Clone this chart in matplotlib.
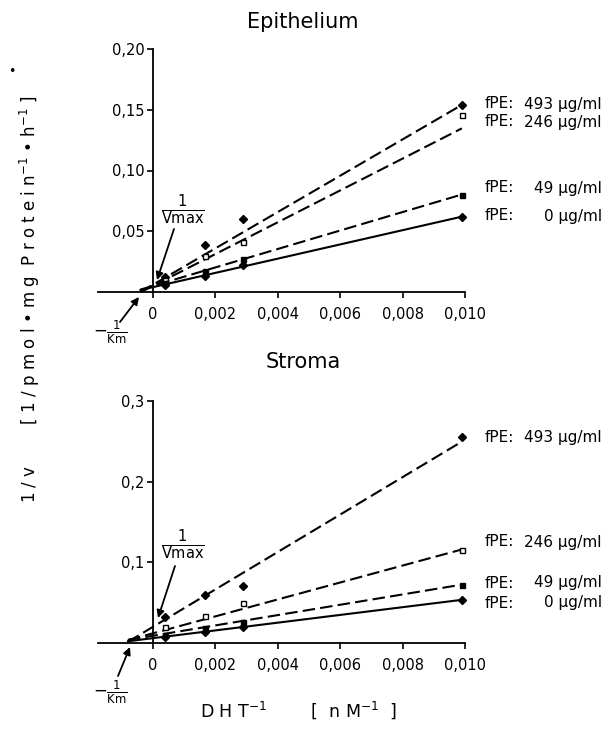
import matplotlib.pyplot as plt
import numpy as np

plt.rcParams['font.family'] = ['DejaVu Sans']
plt.rcParams['mathtext.fontset'] = 'dejavusans'

W, H = 608, 732

# 1/[DHT] in nM^-1
dht_inv = [0.0004, 0.00167, 0.0029, 0.0099]
fpe = [493, 246, 49, 0]

# Epithelium 1/v values per fPE concentration
epi_493 = [0.012, 0.039, 0.060, 0.154]
epi_246 = [0.010, 0.030, 0.041, 0.146]
epi_49 = [0.007, 0.017, 0.027, 0.080]
epi_0 = [0.006, 0.013, 0.022, 0.062]
epi_icpt = [0.006, 0.005, 0.005, 0.004]
epi_slope = [14.95, 13.1, 7.6, 5.86]
epi_xstart = -0.0004

# Stroma
str_493 = [0.032, 0.059, 0.071, 0.255]
str_246 = [0.020, 0.033, 0.050, 0.115]
str_49 = [0.010, 0.018, 0.026, 0.072]
str_0 = [0.007, 0.014, 0.020, 0.053]
str_icpt = [0.020, 0.012, 0.009, 0.006]
str_slope = [23.2, 10.5, 6.4, 4.8]
str_xstart = -0.0008

markers = ['D', 's', 's', 'D']
faces = ['black', 'white', 'black', 'black']
styles = [(0, (6, 2.5)), (0, (6, 2.5)), (0, (6, 2.5)), '-']


def fx(px):
    return px / W


def fy(py):
    return 1 - py / H


fig = plt.figure(figsize=(W / 100, H / 100), dpi=100)


def panel(rect, ys, icpts, slopes, xstart, ymax, yticks, yticklabels):
    ax = fig.add_axes(rect)
    for i in range(4):
        xl = np.array([xstart, dht_inv[-1]])
        ax.plot(xl, icpts[i] + slopes[i] * xl, color='black', lw=1.5,
                linestyle=styles[i], clip_on=False)
        ax.plot(dht_inv, ys[i], linestyle='none', marker=markers[i],
                ms=3.6, mfc=faces[i], mec='black', mew=1, clip_on=False)
    ax.set_xlim(-0.00176, 0.0100)
    ax.set_ylim(0, ymax)
    ax.spines['left'].set_position(('data', 0))
    ax.spines['top'].set_visible(False)
    ax.spines['right'].set_visible(False)
    for s in ['left', 'bottom']:
        ax.spines[s].set_linewidth(1.3)
    ax.set_xticks([0, 0.002, 0.004, 0.006, 0.008, 0.010])
    ax.set_xticklabels(['0', '0,002', '0,004', '0,006', '0,008', '0,010'])
    ax.set_yticks(yticks)
    ax.set_yticklabels(yticklabels)
    ax.tick_params(direction='out', length=4, width=1.2, labelsize=10.5)
    ax.tick_params(axis='x', pad=7)
    ax.tick_params(axis='y', pad=2)
    return ax


ax1 = panel([fx(98), fy(292), 367 / W, 243 / H], [epi_493, epi_246, epi_49, epi_0],
            epi_icpt, epi_slope, epi_xstart, 0.20,
            [0.05, 0.10, 0.15, 0.20], ['0,05', '0,10', '0,15', '0,20'])
ax2 = panel([fx(98), fy(643), 367 / W, 242 / H], [str_493, str_246, str_49, str_0],
            str_icpt, str_slope, str_xstart, 0.3,
            [0.1, 0.2, 0.3], ['0,1', '0,2', '0,3'])

fig.text(fx(303), fy(22), 'Epithelium', ha='center', va='center', fontsize=15)
fig.text(fx(303), fy(362), 'Stroma', ha='center', va='center', fontsize=15)

# fPE labels at line ends
top_label_y = [104, 122, 188, 216]
bot_label_y = [437, 542, 583, 603]
for ly_list in [top_label_y, bot_label_y]:
    for c, ly in zip(fpe, ly_list):
        fig.text(fx(485), fy(ly), 'fPE:', ha='left', va='center', fontsize=11)
        fig.text(fx(602), fy(ly), f'{c} µg/ml', ha='right', va='center', fontsize=11)

# 1/Vmax and -1/Km markers
arrow = dict(arrowstyle='-|>', color='black', lw=1.3, mutation_scale=11,
             shrinkA=0, shrinkB=0)
for vy, kmy, tail_v, head_v, tail_k, head_k in [
        (210, 332, (174, 229), (157, 280), (120, 322), (139, 297)),
        (545, 692, (175, 566), (158, 618), (118, 676), (130, 647))]:
    fig.text(fx(183), fy(vy), r'$\frac{1}{\mathrm{Vmax}}$', ha='center',
             va='center', fontsize=15)
    fig.text(fx(110), fy(kmy), r'$-\frac{1}{\mathrm{Km}}$', ha='center',
             va='center', fontsize=12)
    fig.add_artist(plt.Annotation('', xy=(head_v[0], H - head_v[1]),
                                  xytext=(tail_v[0], H - tail_v[1]),
                                  xycoords='figure pixels', textcoords='figure pixels',
                                  arrowprops=arrow))
    fig.add_artist(plt.Annotation('', xy=(head_k[0], H - head_k[1]),
                                  xytext=(tail_k[0], H - tail_k[1]),
                                  xycoords='figure pixels', textcoords='figure pixels',
                                  arrowprops=arrow))

fig.text(fx(30), fy(299),
         '1 / v        [ 1 / p m o l • m g  P r o t e i n$^{-1}$ • h$^{-1}$ ]',
         rotation=90, ha='center', va='center', fontsize=12)
fig.text(fx(299), fy(710), 'D H T$^{-1}$        [  n M$^{-1}$  ]',
         ha='center', va='center', fontsize=12.5)
fig.text(fx(12), fy(72), '•', ha='center', va='center', fontsize=9)

fig.savefig('out.png', dpi=100)
